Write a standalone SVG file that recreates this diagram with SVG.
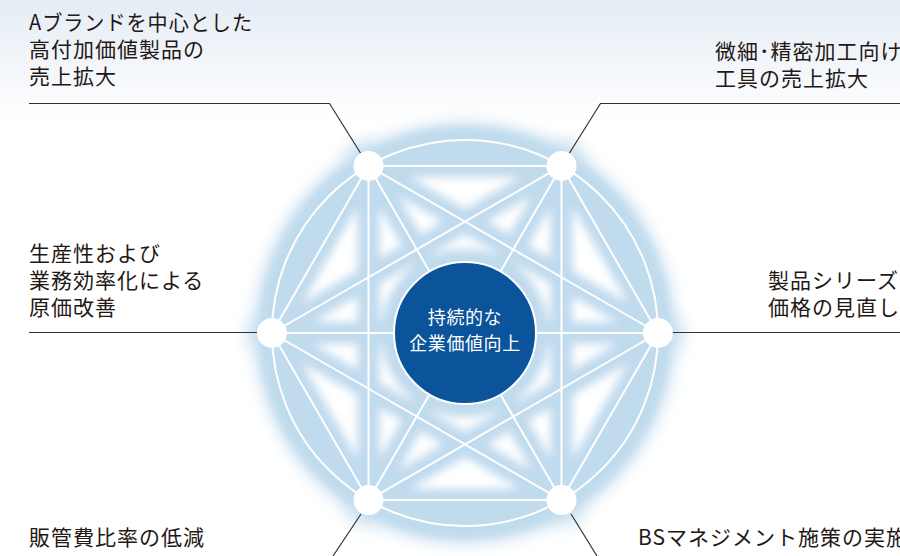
<svg xmlns="http://www.w3.org/2000/svg" width="900" height="556" viewBox="0 0 900 556">
  <defs>
    <linearGradient id="bg" x1="0" y1="0" x2="0" y2="1" gradientUnits="objectBoundingBox">
      <stop offset="0" stop-color="#e5ecf5"/>
      <stop offset="0.22" stop-color="#ffffff"/>
      <stop offset="1" stop-color="#ffffff"/>
    </linearGradient>
    <filter id="blur" x="-20%" y="-20%" width="140%" height="140%">
      <feGaussianBlur stdDeviation="4.5"/>
    </filter>
    <filter id="soft" x="-20%" y="-20%" width="140%" height="140%">
      <feGaussianBlur stdDeviation="8"/>
    </filter>
  </defs>
  <style>
    .glow line { stroke: #c0daee; stroke-width: 22; stroke-linecap: round; }
    .net line, .net circle.ring { stroke: #ffffff; stroke-width: 2; fill: none; }
    .leader { stroke: #333333; stroke-width: 1.2; fill: none; }
    .node { fill: #ffffff; }
    .lbl { font-family: "Noto Sans CJK JP", "Noto Sans", sans-serif; font-size: 21px; letter-spacing: 1px; fill: #231815; }
    .ctr { font-family: "Noto Sans CJK JP", "Noto Sans", sans-serif; font-size: 18px; letter-spacing: 0.6px; fill: #ffffff; text-anchor: middle; }
  </style>

  <rect x="0" y="0" width="900" height="556" fill="url(#bg)"/>

  <g id="halo" filter="url(#soft)">
    <circle cx="465" cy="333" r="195" fill="none" stroke="#c9e0f1" stroke-width="30"/>
    <circle cx="368.5" cy="165.9" r="26" fill="#c9e0f1"/>
    <circle cx="561.5" cy="165.9" r="26" fill="#c9e0f1"/>
    <circle cx="658" cy="333" r="26" fill="#c9e0f1"/>
    <circle cx="561.5" cy="500.1" r="26" fill="#c9e0f1"/>
    <circle cx="368.5" cy="500.1" r="26" fill="#c9e0f1"/>
    <circle cx="272" cy="333" r="26" fill="#c9e0f1"/>
  </g>

  <g id="glow" class="glow" filter="url(#blur)">
    <circle cx="465" cy="333" r="190" fill="none" stroke="#c0daee" stroke-width="30"/>
    <line x1="368.5" y1="165.9" x2="561.5" y2="165.9"/>
    <line x1="561.5" y1="165.9" x2="658" y2="333"/>
    <line x1="658" y1="333" x2="561.5" y2="500.1"/>
    <line x1="561.5" y1="500.1" x2="368.5" y2="500.1"/>
    <line x1="368.5" y1="500.1" x2="272" y2="333"/>
    <line x1="272" y1="333" x2="368.5" y2="165.9"/>
    <line x1="368.5" y1="165.9" x2="658" y2="333"/>
    <line x1="658" y1="333" x2="368.5" y2="500.1"/>
    <line x1="368.5" y1="500.1" x2="368.5" y2="165.9"/>
    <line x1="561.5" y1="165.9" x2="561.5" y2="500.1"/>
    <line x1="561.5" y1="500.1" x2="272" y2="333"/>
    <line x1="272" y1="333" x2="561.5" y2="165.9"/>
    <line x1="368.5" y1="165.9" x2="561.5" y2="500.1"/>
    <line x1="561.5" y1="165.9" x2="368.5" y2="500.1"/>
    <line x1="272" y1="333" x2="658" y2="333"/>
    <circle cx="465" cy="333" r="84" fill="#c0daee"/>
  </g>

  <g id="connectors" class="net">
    <circle class="ring" cx="465" cy="333" r="193"/>
    <line x1="368.5" y1="165.9" x2="561.5" y2="165.9"/>
    <line x1="561.5" y1="165.9" x2="658" y2="333"/>
    <line x1="658" y1="333" x2="561.5" y2="500.1"/>
    <line x1="561.5" y1="500.1" x2="368.5" y2="500.1"/>
    <line x1="368.5" y1="500.1" x2="272" y2="333"/>
    <line x1="272" y1="333" x2="368.5" y2="165.9"/>
    <line x1="368.5" y1="165.9" x2="658" y2="333"/>
    <line x1="658" y1="333" x2="368.5" y2="500.1"/>
    <line x1="368.5" y1="500.1" x2="368.5" y2="165.9"/>
    <line x1="561.5" y1="165.9" x2="561.5" y2="500.1"/>
    <line x1="561.5" y1="500.1" x2="272" y2="333"/>
    <line x1="272" y1="333" x2="561.5" y2="165.9"/>
    <line x1="368.5" y1="165.9" x2="561.5" y2="500.1"/>
    <line x1="561.5" y1="165.9" x2="368.5" y2="500.1"/>
    <line x1="272" y1="333" x2="658" y2="333"/>
  </g>

  <g id="leaders">
    <polyline class="leader" points="29,103.5 329.5,103.5 360.5,153"/>
    <polyline class="leader" points="900,103.5 600.5,103.5 569.5,153"/>
    <polyline class="leader" points="29,332.5 258,332.5"/>
    <polyline class="leader" points="900,332.5 672,332.5"/>
    <polyline class="leader" points="361,514 333,556"/>
    <polyline class="leader" points="571,514 597,556"/>
  </g>

  <g id="center">
    <circle cx="465" cy="333" r="71" fill="#0b539b" stroke="#ffffff" stroke-width="2"/>
    <text class="ctr" x="465" y="324">持続的な</text>
    <text class="ctr" x="465" y="350">企業価値向上</text>
  </g>

  <g id="node-tl">
    <circle class="node" cx="368.5" cy="165.9" r="15"/>
    <text class="lbl" x="29" y="30" textLength="224" lengthAdjust="spacingAndGlyphs">Aブランドを中心とした</text>
    <text class="lbl" x="29" y="57">高付加価値製品の</text>
    <text class="lbl" x="29" y="84">売上拡大</text>
  </g>
  <g id="node-tr">
    <circle class="node" cx="561.5" cy="165.9" r="15"/>
    <text class="lbl" x="715" y="59">微細･精密加工向け</text>
    <text class="lbl" x="715" y="86">工具の売上拡大</text>
  </g>
  <g id="node-l">
    <circle class="node" cx="272" cy="333" r="15"/>
    <text class="lbl" x="29" y="261">生産性および</text>
    <text class="lbl" x="29" y="288">業務効率化による</text>
    <text class="lbl" x="29" y="315">原価改善</text>
  </g>
  <g id="node-r">
    <circle class="node" cx="658" cy="333" r="15"/>
    <text class="lbl" x="768" y="288">製品シリーズ･</text>
    <text class="lbl" x="768" y="315">価格の見直し</text>
  </g>
  <g id="node-bl">
    <circle class="node" cx="368.5" cy="500.1" r="15"/>
    <text class="lbl" x="29" y="545">販管費比率の低減</text>
  </g>
  <g id="node-br">
    <circle class="node" cx="561.5" cy="500.1" r="15"/>
    <text class="lbl" x="638" y="545">BSマネジメント施策の実施</text>
  </g>
</svg>
